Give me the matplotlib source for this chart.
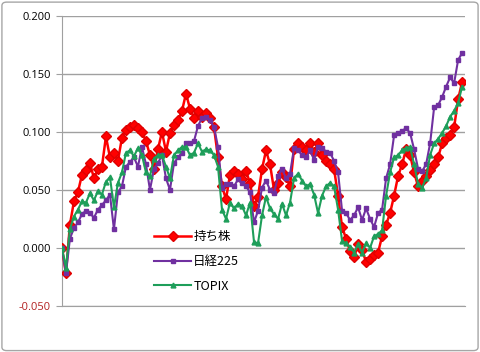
import matplotlib.pyplot as plt
from matplotlib.patches import FancyBboxPatch
import numpy as np

# dane (stopy zwrotu)
mochikabu = [0.000, -0.022, 0.020, 0.040, 0.048, 0.063, 0.067, 0.073, 0.060, 0.068,
             0.070, 0.096, 0.078, 0.082, 0.075, 0.095, 0.102, 0.104, 0.106, 0.103,
             0.100, 0.092, 0.080, 0.068, 0.085, 0.100, 0.083, 0.099, 0.106, 0.110,
             0.118, 0.133, 0.120, 0.112, 0.118, 0.113, 0.116, 0.112, 0.104, 0.078,
             0.053, 0.042, 0.063, 0.066, 0.064, 0.059, 0.066, 0.056, 0.036, 0.044,
             0.068, 0.084, 0.072, 0.050, 0.056, 0.065, 0.061, 0.053, 0.085, 0.090,
             0.087, 0.084, 0.090, 0.083, 0.090, 0.080, 0.075, 0.072, 0.068, 0.045,
             0.018, 0.008, -0.003, -0.008, 0.003, -0.002, -0.012, -0.010, -0.006, -0.004,
             0.010, 0.020, 0.030, 0.045, 0.062, 0.072, 0.085, 0.080, 0.065, 0.053,
             0.058, 0.062, 0.067, 0.072, 0.078, 0.090, 0.095, 0.097, 0.104, 0.128,
             0.143]
nikkei = [0.000, -0.022, 0.008, 0.017, 0.022, 0.029, 0.032, 0.030, 0.026, 0.033,
          0.037, 0.041, 0.046, 0.016, 0.048, 0.053, 0.070, 0.074, 0.078, 0.070,
          0.087, 0.072, 0.050, 0.068, 0.073, 0.080, 0.060, 0.050, 0.073, 0.078,
          0.082, 0.090, 0.090, 0.092, 0.105, 0.112, 0.113, 0.110, 0.104, 0.087,
          0.052, 0.055, 0.055, 0.053, 0.059, 0.056, 0.053, 0.048, 0.022, 0.032,
          0.052, 0.058, 0.050, 0.047, 0.062, 0.068, 0.060, 0.064, 0.086, 0.084,
          0.080, 0.078, 0.084, 0.076, 0.087, 0.086, 0.083, 0.082, 0.075, 0.065,
          0.032, 0.030, 0.024, 0.028, 0.035, 0.024, 0.034, 0.025, 0.018, 0.030,
          0.033, 0.060, 0.072, 0.097, 0.099, 0.101, 0.103, 0.099, 0.085, 0.068,
          0.066, 0.072, 0.090, 0.121, 0.123, 0.130, 0.139, 0.147, 0.142, 0.162,
          0.168]
topix = [0.000, -0.017, 0.016, 0.027, 0.033, 0.040, 0.039, 0.047, 0.041, 0.049,
         0.046, 0.057, 0.061, 0.035, 0.056, 0.065, 0.082, 0.084, 0.079, 0.086,
         0.080, 0.065, 0.062, 0.077, 0.080, 0.080, 0.070, 0.060, 0.080, 0.084,
         0.087, 0.087, 0.080, 0.082, 0.090, 0.083, 0.085, 0.084, 0.080, 0.070,
         0.033, 0.025, 0.039, 0.034, 0.038, 0.036, 0.028, 0.039, 0.005, 0.004,
         0.028, 0.044, 0.034, 0.029, 0.025, 0.038, 0.028, 0.039, 0.060, 0.064,
         0.058, 0.053, 0.055, 0.046, 0.030, 0.045, 0.053, 0.056, 0.053, 0.033,
         0.006, 0.004, 0.001, -0.004, 0.003, -0.004, 0.004, 0.000, 0.010, 0.012,
         0.015, 0.045, 0.065, 0.078, 0.080, 0.084, 0.086, 0.087, 0.072, 0.055,
         0.052, 0.060, 0.080, 0.090, 0.094, 0.099, 0.105, 0.113, 0.118, 0.125,
         0.139]
etykiety = ["持ち株", "日経225", "TOPIX"]
yticks = [-0.05, 0.0, 0.05, 0.10, 0.15, 0.20]

x = np.arange(len(mochikabu))

fig = plt.figure(figsize=(4.8, 3.52), dpi=100)
ax = fig.add_axes([0.129, 0.131, 0.84, 0.824])

# ramka wokol calego wykresu
ramka = FancyBboxPatch((0.004, 0.004), 0.992, 0.99, boxstyle="round,pad=0,rounding_size=0.01",
                       transform=fig.transFigure, fill=False, edgecolor="#A6A6A6", linewidth=1)
fig.patches.append(ramka)

ax.plot(x, mochikabu, color="#FF0000", marker="D", markersize=5.5, linewidth=1.8,
        markeredgecolor="#E00000", label=etykiety[0], zorder=3)
ax.plot(x, nikkei, color="#7030A0", marker="s", markersize=3, linewidth=1.5,
        label=etykiety[1], zorder=4)
ax.plot(x, topix, color="#1E9E5A", marker="^", markersize=3.5, linewidth=1.5,
        label=etykiety[2], zorder=5)

ax.set_xlim(0, len(x) - 1 + 0.75)
ax.set_ylim(-0.05, 0.20)
ax.set_yticks(yticks)
ax.set_yticklabels(["%.3f" % v for v in yticks], fontsize=8, family="Open Sans")
ax.get_yticklabels()[0].set_color("#B22222")
ax.set_xticks([])
ax.yaxis.grid(True, color="#A0A0A0", linewidth=1)
ax.set_axisbelow(True)
ax.tick_params(axis="y", length=4, color="#A0A0A0", pad=4)
for s in ["top", "right"]:
    ax.spines[s].set_visible(False)
ax.spines["left"].set_color("#A0A0A0")
ax.spines["bottom"].set_color("#A0A0A0")

leg = ax.legend(loc="upper left", bbox_to_anchor=(0.2, 0.3), frameon=False,
                prop={"family": ["Noto Sans CJK JP", "DejaVu Sans"], "size": 9},
                handlelength=3.0, handletextpad=0.15, labelspacing=0.95)

plt.savefig("out.png", dpi=100)
